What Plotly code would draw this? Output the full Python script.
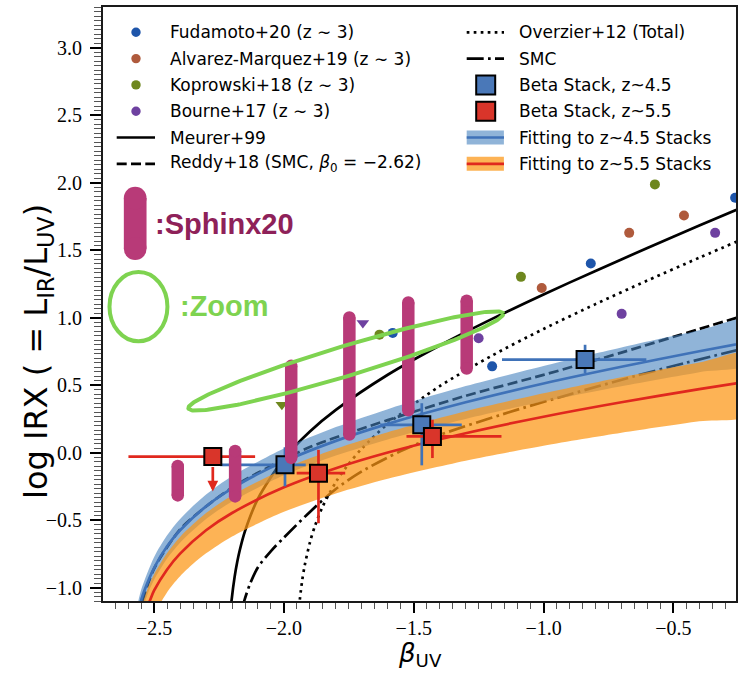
import numpy as np
import plotly.graph_objects as go

# ---------------- data ----------------
fud_beta = [-0.262, -0.818, -1.198, -1.581]
fud_irx = [1.887, 1.400, 0.638, 0.886]
alv_beta = [-0.459, -0.670, -1.007]
alv_irx = [1.756, 1.627, 1.219]
kop_beta = [-0.571, -1.087, -1.632]
kop_irx = [1.986, 1.301, 0.873]
kop_lim_beta = [-2.008]
kop_lim_irx = [0.354]
bou_beta = [-0.339, -0.699, -1.250]
bou_irx = [1.627, 1.027, 0.846]
bou_lim_beta = [-1.696]
bou_lim_irx = [0.960]

meurer_beta = [-2.205, -2.202, -2.19, -2.18, -2.17, -2.15, -2.1, -2.0, -1.9, -1.8, -1.6, -1.4, -1.2, -1.0, -0.8, -0.6, -0.4, -0.2]
meurer_irx = [-1.161, -1.10, -0.921, -0.811, -0.722, -0.582, -0.342, -0.046, 0.156, 0.316, 0.576, 0.793, 0.988, 1.171, 1.345, 1.515, 1.681, 1.845]

overzier_beta = [-1.942, -1.93, -1.92, -1.9, -1.88, -1.85, -1.8, -1.75, -1.7, -1.6, -1.4, -1.2, -1.0, -0.8, -0.6, -0.4, -0.2]
overzier_irx = [-1.143, -0.952, -0.837, -0.667, -0.541, -0.397, -0.219, -0.083, 0.029, 0.212, 0.491, 0.716, 0.915, 1.099, 1.274, 1.443, 1.608]

smc_beta = [-2.16, -2.153, -2.13, -2.1, -2.05, -2.0, -1.9, -1.8, -1.7, -1.55, -1.4, -1.13, -0.9, -0.65, -0.45, -0.2]
smc_irx = [-1.16, -1.10, -0.97, -0.85, -0.73, -0.63, -0.44, -0.27, -0.14, 0.01, 0.13, 0.30, 0.43, 0.565, 0.665, 0.785]

reddy_beta = [-2.56, -2.545, -2.5, -2.4, -2.3, -2.2, -2.1, -1.9, -1.6, -1.3, -1.0, -0.7, -0.4, -0.2]
reddy_irx = [-1.2, -1.1, -0.86, -0.57, -0.40, -0.26, -0.15, 0.04, 0.24, 0.42, 0.575, 0.74, 0.915, 1.03]

fit45_beta = [-2.56, -2.549, -2.54, -2.5, -2.45, -2.4, -2.3, -2.2, -2.1, -2.0, -1.8, -1.6, -1.3, -1.0, -0.7, -0.4, -0.2]
fit45_irx = [-1.163, -1.088, -1.035, -0.854, -0.695, -0.576, -0.399, -0.266, -0.158, -0.066, 0.086, 0.212, 0.372, 0.511, 0.635, 0.750, 0.823]
fit45_hi_beta = [-2.573, -2.561, -2.55, -2.5, -2.45, -2.4, -2.3, -2.2, -2.0, -1.8, -1.6, -1.3, -1.0, -0.7, -0.4, -0.2]
fit45_hi_irx = [-1.2, -1.10, -1.016, -0.774, -0.613, -0.492, -0.312, -0.176, 0.029, 0.188, 0.321, 0.492, 0.641, 0.778, 0.905, 0.986]
fit45_lo_beta = [-2.5515, -2.534, -2.52, -2.5, -2.45, -2.4, -2.3, -2.2, -2.0, -1.8, -1.6, -1.3, -1.0, -0.7, -0.4, -0.2]
fit45_lo_irx = [-1.2, -1.10, -1.024, -0.943, -0.786, -0.668, -0.493, -0.363, -0.169, -0.023, 0.097, 0.248, 0.377, 0.491, 0.595, 0.661]

fit55_beta = [-2.538, -2.517, -2.5, -2.45, -2.4, -2.3, -2.2, -2.0, -1.8, -1.6, -1.3, -1.0, -0.7, -0.4, -0.2]
fit55_irx = [-1.2, -1.10, -1.022, -0.866, -0.749, -0.576, -0.448, -0.258, -0.116, 0.0, 0.143, 0.265, 0.372, 0.469, 0.529]
fit55_hi_beta = [-2.5575, -2.541, -2.52, -2.5, -2.45, -2.4, -2.3, -2.2, -2.0, -1.8, -1.6, -1.3, -1.0, -0.7, -0.4, -0.2]
fit55_hi_irx = [-1.2, -1.10, -0.983, -0.901, -0.744, -0.625, -0.449, -0.318, -0.122, 0.027, 0.150, 0.305, 0.438, 0.557, 0.666, 0.735]
fit55_lo_beta = [-2.5015, -2.471, -2.44, -2.4, -2.35, -2.3, -2.2, -2.0, -1.8, -1.6, -1.3, -1.0, -0.7, -0.4, -0.2]
fit55_lo_irx = [-1.2, -1.10, -1.007, -0.916, -0.824, -0.747, -0.622, -0.439, -0.303, -0.194, -0.061, 0.050, 0.146, 0.231, 0.284]

stack45_beta = [-1.996, -1.469, -0.840]
stack45_irx = [-0.091, 0.205, 0.688]
stack45_xerr_lo = [0.25, 0.16, 0.32]
stack45_xerr_hi = [0.08, 0.154, 0.236]
stack45_yerr_lo = [0.16, 0.30, 0.10]
stack45_yerr_hi = [0.13, 0.16, 0.11]

stack55_beta = [-2.274, -1.867, -1.428]
stack55_irx = [-0.030, -0.153, 0.119]
stack55_xerr_lo = [0.325, 0.084, 0.10]
stack55_xerr_hi = [0.163, 0.103, 0.266]
stack55_yerr_lo = [0.0, 0.371, 0.16]
stack55_yerr_hi = [0.0, 0.173, 0.124]
stack55_limit_beta = [-2.274]
stack55_limit_from = [-0.030]
stack55_limit_to = [-0.289]

sphinx_beta = [-2.409, -2.188, -1.972, -1.748, -1.521, -1.296]
sphinx_lo = [-0.318, -0.325, -0.040, 0.133, 0.313, 0.622]
sphinx_hi = [-0.100, 0.011, 0.642, 1.000, 1.111, 1.124]

# green "zoom" ellipse: centre, half major axis vector, half minor axis vector (data units)
zoom_centre = (-1.7615, 0.678)
zoom_major = (0.6065, 0.3519)
zoom_minor = (0.0167, -0.1064)

x_ticks = [-2.5, -2.0, -1.5, -1.0, -0.5]
y_ticks = [-1.0, -0.5, 0.0, 0.5, 1.0, 1.5, 2.0, 2.5, 3.0]

legend_left = ["Fudamoto+20 (z ∼ 3)", "Alvarez-Marquez+19 (z ∼ 3)", "Koprowski+18 (z ∼ 3)",
               "Bourne+17 (z ∼ 3)", "Meurer+99", "Reddy+18 (SMC, <i>β</i><sub>0</sub> = −2.62)"]
legend_right = ["Overzier+12 (Total)", "SMC", "Beta Stack, z~4.5", "Beta Stack, z~5.5",
                "Fitting to z~4.5 Stacks", "Fitting to z~5.5 Stacks"]

# ---------------- styles ----------------
C_FUD, C_ALV, C_KOP, C_BOU = "#1E55AA", "#AF5A3C", "#6E871E", "#6E41A0"
C_BLUE, C_BLUE_BAND = "#3F72B8", "rgba(70,130,190,0.6)"
C_RED, C_ORANGE_BAND = "#E0281E", "rgba(252,150,20,0.72)"
C_SQ_BLUE, C_SQ_RED = "#4A78B8", "#D9352A"
C_SPHINX, C_SPHINX_TXT = "#B83A78", "#8E2159"
C_ZOOM = "#7ED350"
LW = 2.7
DASH = "10px,4.3px"
DOT = "2.7px,4.3px"
DASHDOT = "17px,4.3px,2.7px,4.3px"

W, H = 739, 673
ML, MR, MT, MB = 103, 3, 7, 72
PW, PH = W - ML - MR, H - MT - MB
XR = [-2.697, -0.2586]
YR = [-1.1, 3.3]


def pxx(p):
    return (p - ML) / PW


def pxy(p):
    return (H - MB - p) / PH


fig = go.Figure()

# literature points
for bx, by, col in [(fud_beta, fud_irx, C_FUD), (alv_beta, alv_irx, C_ALV),
                    (kop_beta, kop_irx, C_KOP), (bou_beta, bou_irx, C_BOU)]:
    fig.add_trace(go.Scatter(x=bx, y=by, mode="markers", showlegend=False,
                             marker=dict(size=10, color=col, line=dict(width=0))))
for bx, by, col in [(kop_lim_beta, kop_lim_irx, C_KOP), (bou_lim_beta, bou_lim_irx, C_BOU)]:
    fig.add_trace(go.Scatter(x=bx, y=by, mode="markers", showlegend=False,
                             marker=dict(size=11, symbol="triangle-down", color=col, line=dict(width=0))))

# reference relations
for bx, by, dash in [(meurer_beta, meurer_irx, "solid"), (reddy_beta, reddy_irx, DASH),
                     (overzier_beta, overzier_irx, DOT), (smc_beta, smc_irx, DASHDOT)]:
    fig.add_trace(go.Scatter(x=bx, y=by, mode="lines", showlegend=False,
                             line=dict(color="black", width=LW, dash=dash, shape="spline", smoothing=0.8)))


def band(hb, hy, lb, ly, col):
    return go.Scatter(x=list(hb) + list(lb)[::-1], y=list(hy) + list(ly)[::-1], mode="lines",
                      fill="toself", fillcolor=col, line=dict(width=0, shape="spline", smoothing=0.8),
                      showlegend=False, hoverinfo="skip")


fig.add_trace(band(fit45_hi_beta, fit45_hi_irx, fit45_lo_beta, fit45_lo_irx, C_BLUE_BAND))
fig.add_trace(go.Scatter(x=fit45_beta, y=fit45_irx, mode="lines", showlegend=False,
                         line=dict(color=C_BLUE, width=LW, shape="spline", smoothing=0.8)))
fig.add_trace(band(fit55_hi_beta, fit55_hi_irx, fit55_lo_beta, fit55_lo_irx, C_ORANGE_BAND))
fig.add_trace(go.Scatter(x=fit55_beta, y=fit55_irx, mode="lines", showlegend=False,
                         line=dict(color=C_RED, width=LW, shape="spline", smoothing=0.8)))

# stacks
fig.add_trace(go.Scatter(
    x=stack45_beta, y=stack45_irx, mode="markers", showlegend=False,
    marker=dict(symbol="square", size=17, color=C_SQ_BLUE, line=dict(color="black", width=2)),
    error_x=dict(type="data", array=stack45_xerr_hi, arrayminus=stack45_xerr_lo, color=C_BLUE, thickness=LW, width=0),
    error_y=dict(type="data", array=stack45_yerr_hi, arrayminus=stack45_yerr_lo, color=C_BLUE, thickness=LW, width=0)))
fig.add_trace(go.Scatter(
    x=stack55_beta, y=stack55_irx, mode="markers", showlegend=False,
    marker=dict(symbol="square", size=17, color=C_SQ_RED, line=dict(color="black", width=2)),
    error_x=dict(type="data", array=stack55_xerr_hi, arrayminus=stack55_xerr_lo, color=C_RED, thickness=LW, width=0),
    error_y=dict(type="data", array=stack55_yerr_hi, arrayminus=stack55_yerr_lo, color=C_RED, thickness=LW, width=0)))

# Sphinx20 bars
sx, sy = [], []
for b, lo, hi in zip(sphinx_beta, sphinx_lo, sphinx_hi):
    sx += [b, b, None]
    sy += [lo, hi, None]
fig.add_trace(go.Scatter(x=sx, y=sy, mode="lines+markers", showlegend=False,
                         line=dict(color=C_SPHINX, width=12.5),
                         marker=dict(size=12.5, color=C_SPHINX, line=dict(width=0))))
# Sphinx20 key bar
fig.add_trace(go.Scatter(x=[-2.573, -2.573], y=[1.51, 1.885], mode="lines+markers", showlegend=False,
                         line=dict(color=C_SPHINX, width=22.7),
                         marker=dict(size=22.7, color=C_SPHINX, line=dict(width=0))))

# green zoom ellipse
t = np.linspace(0, 2 * np.pi, 241)
ex = zoom_centre[0] + zoom_major[0] * np.cos(t) + zoom_minor[0] * np.sin(t)
ey = zoom_centre[1] + zoom_major[1] * np.cos(t) + zoom_minor[1] * np.sin(t)
fig.add_trace(go.Scatter(x=ex, y=ey, mode="lines", showlegend=False,
                         line=dict(color=C_ZOOM, width=4)))

shapes = []
annotations = []

shapes.append(dict(type="circle", xref="x", yref="y", x0=-2.672, x1=-2.4488, y0=0.824, y1=1.337,
                   line=dict(color=C_ZOOM, width=4), layer="above"))
annotations.append(dict(x=-2.504, y=1.689, xref="x", yref="y", text="<b>:Sphinx20</b>", showarrow=False,
                        xanchor="left", yanchor="middle",
                        font=dict(family="Liberation Sans", size=29, color=C_SPHINX_TXT)))
annotations.append(dict(x=-2.408, y=1.083, xref="x", yref="y", text="<b>:Zoom</b>", showarrow=False,
                        xanchor="left", yanchor="middle",
                        font=dict(family="Liberation Sans", size=29, color=C_ZOOM)))

# upper-limit arrow
for b, y0, y1 in zip(stack55_limit_beta, stack55_limit_from, stack55_limit_to):
    annotations.append(dict(x=b, y=y1, ax=b, ay=y0, xref="x", yref="y", axref="x", ayref="y",
                            showarrow=True, arrowhead=2, arrowsize=0.8, arrowwidth=LW,
                            arrowcolor=C_RED, startstandoff=9, text=""))

# axis titles
annotations.append(dict(x=pxx(38), y=pxy(352), xref="paper", yref="paper", textangle=-90,
                        text="log IRX ( = L<sub>IR</sub>/L<sub>UV</sub>)", showarrow=False,
                        xanchor="center", yanchor="middle",
                        font=dict(family="DejaVu Sans", size=32, color="black")))
annotations.append(dict(x=pxx(420), y=pxy(654.5), xref="paper", yref="paper",
                        text="<i>β</i><sub>UV</sub>", showarrow=False,
                        xanchor="center", yanchor="middle",
                        font=dict(family="DejaVu Sans", size=26, color="black")))

# ---------------- manual two-column legend ----------------
rows = [32.3 + 26.3 * i for i in range(6)]
LFONT = dict(family="DejaVu Sans", size=17, color="black")
for i, lab in enumerate(legend_left):
    annotations.append(dict(x=pxx(168.3), y=pxy(rows[i]), xref="paper", yref="paper", text=lab,
                            showarrow=False, xanchor="left", yanchor="middle", font=LFONT))
for i, lab in enumerate(legend_right):
    annotations.append(dict(x=pxx(516.7), y=pxy(rows[i]), xref="paper", yref="paper", text=lab,
                            showarrow=False, xanchor="left", yanchor="middle", font=LFONT))

for i, col in enumerate([C_FUD, C_ALV, C_KOP, C_BOU]):
    shapes.append(dict(type="circle", xref="paper", yref="paper", xsizemode="pixel", ysizemode="pixel",
                       xanchor=pxx(136), yanchor=pxy(rows[i]), x0=-4.7, x1=4.7, y0=-4.7, y1=4.7,
                       fillcolor=col, line=dict(width=0)))
for i, dash in [(4, "solid"), (5, DASH)]:
    shapes.append(dict(type="line", xref="paper", yref="paper", x0=pxx(116.7), x1=pxx(155),
                       y0=pxy(rows[i]), y1=pxy(rows[i]), line=dict(color="black", width=LW, dash=dash)))
for i, dash in [(0, DOT), (1, DASHDOT)]:
    shapes.append(dict(type="line", xref="paper", yref="paper", x0=pxx(466.7), x1=pxx(504),
                       y0=pxy(rows[i]), y1=pxy(rows[i]), line=dict(color="black", width=LW, dash=dash)))
for i, col in [(2, C_SQ_BLUE), (3, C_SQ_RED)]:
    shapes.append(dict(type="rect", xref="paper", yref="paper", xsizemode="pixel", ysizemode="pixel",
                       xanchor=pxx(485.7), yanchor=pxy(rows[i]), x0=-9.5, x1=9.5, y0=-9.5, y1=9.5,
                       fillcolor=col, line=dict(color="black", width=2)))
for i, bcol, lcol in [(4, C_BLUE_BAND, C_BLUE), (5, C_ORANGE_BAND, C_RED)]:
    shapes.append(dict(type="rect", xref="paper", yref="paper", xsizemode="pixel", ysizemode="pixel",
                       xanchor=pxx(485.3), yanchor=pxy(rows[i]), x0=-18.6, x1=18.6, y0=-7, y1=7,
                       fillcolor=bcol, line=dict(width=0)))
    shapes.append(dict(type="line", xref="paper", yref="paper", x0=pxx(466.7), x1=pxx(504),
                       y0=pxy(rows[i]), y1=pxy(rows[i]), line=dict(color=lcol, width=LW)))

axis_common = dict(showgrid=False, zeroline=False, showline=True, linecolor="#1a1a1a", linewidth=1.8,
                   mirror=True, ticks="outside", tickcolor="black", tickwidth=2.2,
                   tickfont=dict(family="Liberation Serif", size=20, color="black"), tickformat=".1f")

fig.update_layout(
    width=W, height=H, margin=dict(l=ML, r=MR, t=MT, b=MB, autoexpand=False),
    paper_bgcolor="white", plot_bgcolor="white", showlegend=False,
    shapes=shapes, annotations=annotations,
    xaxis=dict(range=XR, tickvals=x_ticks, ticklen=10, ticklabelstandoff=-2,
               minor=dict(dtick=0.05, tick0=0, ticks="outside", ticklen=6, tickwidth=1.2, tickcolor="#555"),
               **axis_common),
    yaxis=dict(range=YR, tickvals=y_ticks, ticklen=11, ticklabelstandoff=4,
               minor=dict(dtick=1 / 30, tick0=0, ticks="outside", ticklen=7, tickwidth=1.2, tickcolor="#555"),
               **axis_common),
)

fig.write_html("out.html", config={"displayModeBar": False},
               post_script="document.body.style.margin='0';")
